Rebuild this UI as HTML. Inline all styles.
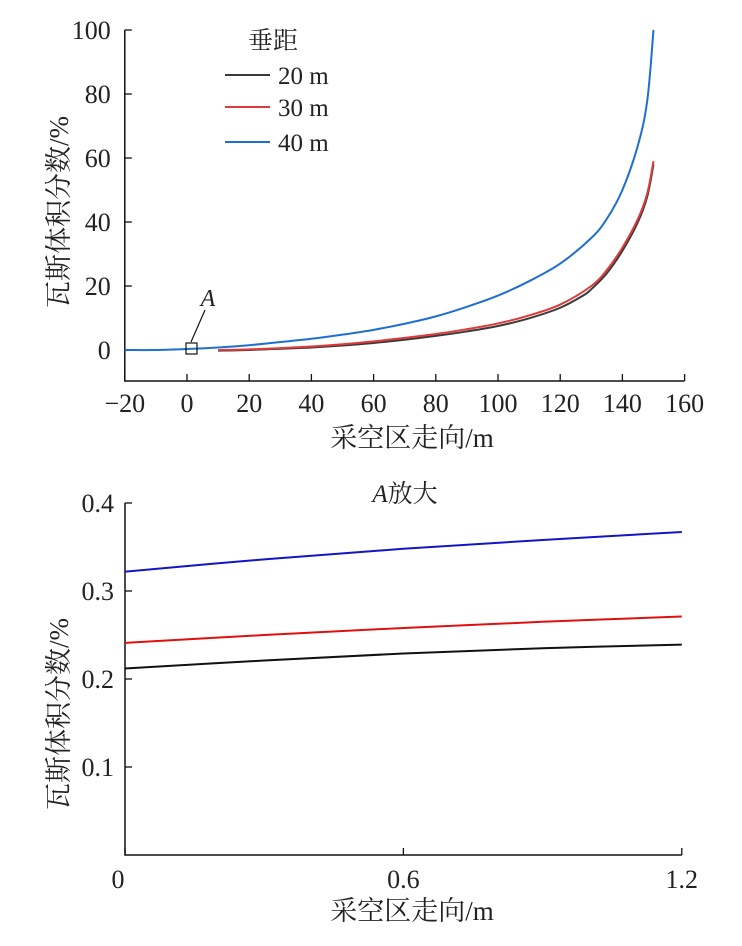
<!DOCTYPE html>
<html><head><meta charset="utf-8">
<style>
body{margin:0;background:#fff;}
svg{display:block;font-family:"Liberation Serif","Noto Serif CJK SC",serif;}
</style></head>
<body>
<svg id="c" width="742" height="946" xmlns="http://www.w3.org/2000/svg"></svg>
<script>
const topXTicks=[-20,0,20,40,60,80,100,120,140,160];
const topYTicks=[0,20,40,60,80,100];
const topX=[-20,-10,0,10,20,30,40,50,60,70,80,90,100,110,120,130,135,140,145,148,150];
const top40=[0,0,0.3,0.8,1.5,2.5,3.5,4.8,6.3,8.2,10.5,13.5,17,21.5,27,35,41,50,64,78,100];
const top30X=[10,20,30,40,50,60,70,80,90,100,110,120,130,135,140,145,148,150];
const top30=[0,0.2,0.6,1.1,1.8,2.7,3.8,5,6.5,8.3,10.8,14.2,20,25,32,41,49,59];
const top20X=[10,20,30,40,50,60,70,80,90,100,110,120,127,130,135,140,145,148,150];
const top20=[-0.2,0,0.4,0.8,1.4,2.2,3.2,4.4,5.8,7.5,9.9,13.2,16.8,19,24,31,40,48,58];
const botXTicks=[0,0.6,1.2];
const botYTicks=[0.1,0.2,0.3,0.4];
const botX=[0,0.3,0.6,0.9,1.2];
const bot40=[0.322,0.336,0.348,0.358,0.367];
const bot30=[0.241,0.250,0.258,0.265,0.271];
const bot20=[0.212,0.221,0.229,0.235,0.239];

const svg=document.getElementById('c');
const NS='http://www.w3.org/2000/svg';
function mk(tag,attrs,parent){const e=document.createElementNS(NS,tag);for(const k in attrs)e.setAttribute(k,attrs[k]);(parent||svg).appendChild(e);return e;}
function txt(s,x,y,size,anchor,parent){const t=mk('text',{x:x,y:y,'font-size':size,'text-anchor':anchor||'middle',fill:'#222'},parent);t.textContent=s;return t;}
function smooth(pts){let d='M'+pts[0][0]+','+pts[0][1];for(let i=0;i<pts.length-1;i++){const p0=pts[i-1]||pts[i],p1=pts[i],p2=pts[i+1],p3=pts[i+2]||p2;d+=' C'+(p1[0]+(p2[0]-p0[0])/6)+','+(p1[1]+(p2[1]-p0[1])/6)+' '+(p2[0]-(p3[0]-p1[0])/6)+','+(p2[1]-(p3[1]-p1[1])/6)+' '+p2[0]+','+p2[1];}return d;}

// top chart
const tx=v=>187+v*3.11, ty=v=>350-v*3.2;
const gT=mk('g',{});

const axT=mk('path',{d:'M'+tx(-20)+','+ty(100)+' V'+ty(-9.7)+' H'+tx(160),stroke:'#111','stroke-width':1.5,fill:'none'},gT);

topXTicks.forEach(v=>{mk('line',{x1:tx(v),x2:tx(v),y1:ty(-9.7),y2:ty(-9.7)-7,stroke:'#111','stroke-width':1.3},gT);const t=txt(v<0?'\u2212'+(-v):String(v),tx(v),ty(-9.7)+31,26,'middle',gT);});
topYTicks.forEach(v=>{mk('line',{x1:tx(-20),x2:tx(-20)+7,y1:ty(v),y2:ty(v),stroke:'#111','stroke-width':1.3},gT);const t=txt(String(v),tx(-20)-14,ty(v)+9,26,'end',gT);});
const yl=txt('瓦斯体积分数/%',0,0,27,'middle',gT);yl.setAttribute('transform','translate(68,212) rotate(-90)');

const xl=txt('采空区走向/m',412,447,27,'middle',gT);

function series(xs,ys,col,name,fx,fy,g){const p=mk('path',{d:smooth(xs.map((x,i)=>[fx(x),fy(ys[i])])),stroke:col,'stroke-width':2,fill:'none'},g);}
series(top20X,top20,'#3a3a3a','line-20m',tx,ty,gT);
series(top30X,top30,'#e03a3a','line-30m',tx,ty,gT);
series(topX,top40,'#1f6fd0','line-40m',tx,ty,gT);
const box=mk('rect',{x:186,y:343,width:11,height:11,fill:'none',stroke:'#111','stroke-width':1.2},gT);

mk('line',{x1:191,y1:342,x2:205,y2:310,stroke:'#111','stroke-width':1.2},gT);
const la=txt('A',208,306,24,'middle',gT);la.setAttribute('font-style','italic');

const lg=mk('g',{},gT);
txt('垂距',248,49,25,'start',lg);
[['20 m','#3a3a3a',75],['30 m','#e03a3a',107],['40 m','#1f6fd0',142]].forEach(a=>{const e=mk('g',{},lg);mk('line',{x1:225,x2:270,y1:a[2],y2:a[2],stroke:a[1],'stroke-width':2},e);txt(a[0],278,a[2]+9,25,'start',e);});

// bottom chart
const bx=v=>125+v*464, by=v=>855-v*880;
const gB=mk('g',{});

const axB=mk('path',{d:'M'+bx(0)+','+by(0.4)+' V'+by(0)+' H'+bx(1.2),stroke:'#111','stroke-width':1.5,fill:'none'},gB);

botYTicks.forEach(v=>{mk('line',{x1:bx(0),x2:bx(0)+7,y1:by(v),y2:by(v),stroke:'#111','stroke-width':1.3},gB);const t=txt(v.toFixed(1),bx(0)-11,by(v)+9,26,'end',gB);});
botXTicks.forEach(v=>{mk('line',{x1:bx(v),x2:bx(v),y1:by(0),y2:by(0)-7,stroke:'#111','stroke-width':1.3},gB);const t=txt(v===0?'0':v.toFixed(1),v===0?bx(v)-7:bx(v),by(0)+33,26,'middle',gB);});
const t2=mk('text',{x:405,y:502,'font-size':25,'text-anchor':'middle',fill:'#222'},gB);

t2.innerHTML='<tspan font-style="italic">A</tspan>放大';
const yl2=txt('瓦斯体积分数/%',0,0,27,'middle',gB);yl2.setAttribute('transform','translate(68,714) rotate(-90)');

const xl2=txt('采空区走向/m',412,920,27,'middle',gB);

series(botX,bot20,'#111','zoom-line-20m',bx,by,gB);
series(botX,bot30,'#e01010','zoom-line-30m',bx,by,gB);
series(botX,bot40,'#1414c8','zoom-line-40m',bx,by,gB);
</script>
</body></html>
